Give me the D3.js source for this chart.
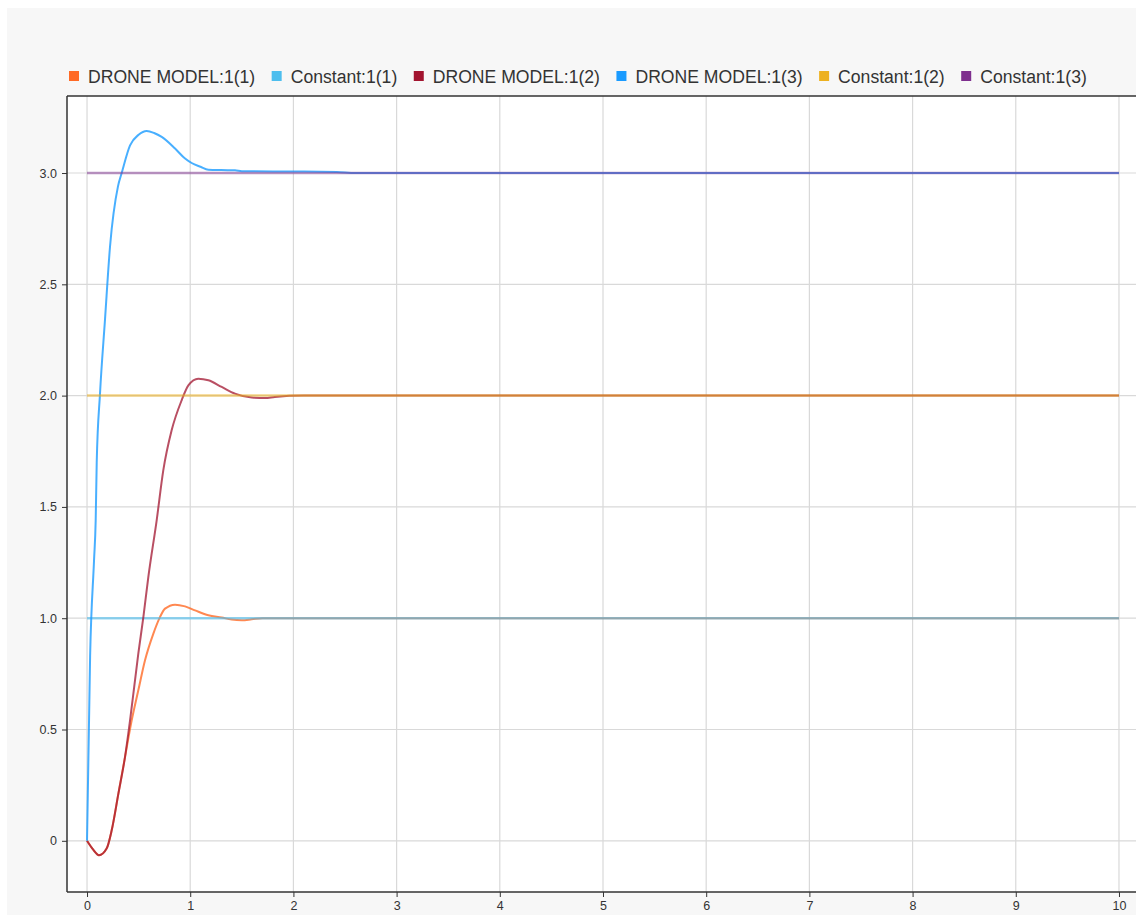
<!DOCTYPE html>
<html>
<head>
<meta charset="utf-8">
<script src="https://cdn.jsdelivr.net/npm/d3@7"></script>
<style>
  html, body { margin: 0; padding: 0; background: #ffffff; }
  svg { display: block; font-family: "Liberation Sans", Arial, sans-serif; }
</style>
</head>
<body>
<svg id="chart" width="1136" height="916"></svg>
<script>
// Drone position response (three axes) against constant setpoints
const seriesNames = ["DRONE MODEL:1(1)", "Constant:1(1)", "DRONE MODEL:1(2)", "DRONE MODEL:1(3)", "Constant:1(2)", "Constant:1(3)"];
const seriesColors = ["#ff6a26", "#4dbeee", "#a2142f", "#1a9bff", "#edb120", "#7e2f8e"];

const xTicks = [0, 1, 2, 3, 4, 5, 6, 7, 8, 9, 10];
const yTicks = [0, 0.5, 1.0, 1.5, 2.0, 2.5, 3.0];
const yTickLabels = ["0", "0.5", "1.0", "1.5", "2.0", "2.5", "3.0"];

// DRONE MODEL:1(1)
const drone1Time  = [0, 0.06, 0.116, 0.19, 0.239, 0.304, 0.368, 0.433, 0.497, 0.562, 0.643, 0.707, 0.756, 0.853, 0.95, 1.047, 1.176, 1.305, 1.402, 1.5, 1.596, 1.7, 2.0, 10];
const drone1Value = [0, -0.04, -0.065, -0.035, 0.047, 0.212, 0.376, 0.541, 0.676, 0.811, 0.931, 1.005, 1.043, 1.061, 1.053, 1.035, 1.013, 1.003, 0.994, 0.991, 0.995, 1.0, 1.0, 1.0];

// DRONE MODEL:1(2)
const drone2Time  = [0, 0.06, 0.116, 0.19, 0.239, 0.304, 0.368, 0.417, 0.497, 0.546, 0.594, 0.675, 0.739, 0.82, 0.917, 0.982, 1.078, 1.176, 1.305, 1.434, 1.596, 1.725, 1.82, 2.1, 10];
const drone2Value = [0, -0.04, -0.065, -0.035, 0.047, 0.212, 0.376, 0.541, 0.841, 1.005, 1.185, 1.44, 1.664, 1.844, 1.979, 2.046, 2.076, 2.069, 2.039, 2.009, 1.991, 1.989, 1.994, 2.0, 2.0];

// DRONE MODEL:1(3)
const drone3Time  = [0, 0.03, 0.068, 0.084, 0.094, 0.126, 0.174, 0.223, 0.30, 0.336, 0.417, 0.5, 0.578, 0.65, 0.724, 0.853, 0.95, 1.014, 1.1, 1.176, 1.3, 1.434, 1.5, 1.8, 2.1, 2.42, 2.6, 10];
const drone3Value = [0, 0.83, 1.26, 1.44, 1.70, 2.01, 2.34, 2.67, 2.94, 3.0, 3.124, 3.172, 3.189, 3.18, 3.162, 3.110, 3.065, 3.045, 3.028, 3.015, 3.013, 3.012, 3.008, 3.007, 3.007, 3.005, 3.0, 3.0];

// Constant setpoints
const constTime = [0, 10];
const const1Value = [1, 1];
const const2Value = [2, 2];
const const3Value = [3, 3];

const zip = (ts, vs) => ts.map((t, i) => ({ t, v: vs[i] }));
// drawing order follows the legend order
const series = [
  { name: seriesNames[0], color: seriesColors[0], data: zip(drone1Time, drone1Value), w: 2, op: 0.8 },
  { name: seriesNames[1], color: seriesColors[1], data: zip(constTime, const1Value), w: 2.5, op: 0.6 },
  { name: seriesNames[2], color: seriesColors[2], data: zip(drone2Time, drone2Value), w: 2, op: 0.75 },
  { name: seriesNames[3], color: seriesColors[3], data: zip(drone3Time, drone3Value), w: 2, op: 0.8 },
  { name: seriesNames[4], color: seriesColors[4], data: zip(constTime, const2Value), w: 2.5, op: 0.55 },
  { name: seriesNames[5], color: seriesColors[5], data: zip(constTime, const3Value), w: 2.5, op: 0.5 }
];

const svg = d3.select("#chart");
const W = 1136, H = 916;

// panel background
svg.append("rect").attr("x", 0).attr("y", 0).attr("width", W).attr("height", H).attr("fill", "#ffffff");
svg.append("rect").attr("x", 7).attr("y", 8).attr("width", W - 7).attr("height", 907).attr("fill", "#f7f7f7");

const plot = { left: 67, top: 96, right: 1136, bottom: 892 };

svg.append("rect")
  .attr("x", plot.left).attr("y", plot.top)
  .attr("width", plot.right - plot.left).attr("height", plot.bottom - plot.top)
  .attr("fill", "#ffffff");

const x = d3.scaleLinear().domain([-0.194, 10.165]).range([plot.left, plot.right]);
const y = d3.scaleLinear().domain([-0.23, 3.346]).range([plot.bottom, plot.top]);

// grid
const grid = svg.append("g");
grid.selectAll("line.vx").data(xTicks).join("line")
  .attr("x1", d => x(d)).attr("x2", d => x(d))
  .attr("y1", plot.top).attr("y2", plot.bottom)
  .attr("stroke", "#d9d9d9").attr("stroke-width", 1.2);
grid.selectAll("line.hy").data(yTicks).join("line")
  .attr("x1", plot.left).attr("x2", plot.right)
  .attr("y1", d => y(d)).attr("y2", d => y(d))
  .attr("stroke", "#d9d9d9").attr("stroke-width", 1.2);

// series lines
const line = d3.line().x(d => x(d.t)).y(d => y(d.v)).curve(d3.curveMonotoneX);
const lines = svg.append("g");
series.forEach(s => {
  lines.append("path")
    .datum(s.data)
    .attr("d", line)
    .attr("fill", "none")
    .attr("stroke", s.color)
    .attr("stroke-width", s.w)
    .attr("stroke-opacity", s.op)
    .attr("stroke-linejoin", "round");
});

// axes
const xAxis = d3.axisBottom(x).tickValues(xTicks).tickFormat(d3.format("d")).tickSize(5).tickPadding(4);
const yAxis = d3.axisLeft(y).tickValues(yTicks).tickFormat((d, i) => yTickLabels[i]).tickSize(5).tickPadding(5);

const gx = svg.append("g").attr("transform", `translate(0,${plot.bottom})`).call(xAxis);
const gy = svg.append("g").attr("transform", `translate(${plot.left},0)`).call(yAxis);
[gx, gy].forEach(g => {
  g.select(".domain").remove();
  g.selectAll(".tick line").attr("stroke", "#333");
  g.selectAll(".tick text").attr("fill", "#333").style("font-size", "12.5px")
    .style("font-family", "'Liberation Sans', Arial, sans-serif");
});

// frame: left, top, bottom
svg.append("line").attr("x1", plot.left).attr("x2", plot.left).attr("y1", plot.top).attr("y2", plot.bottom)
  .attr("stroke", "#333").attr("stroke-width", 1.5);
svg.append("line").attr("x1", plot.left).attr("x2", plot.right).attr("y1", plot.top).attr("y2", plot.top)
  .attr("stroke", "#333").attr("stroke-width", 1.5);
svg.append("line").attr("x1", plot.left).attr("x2", plot.right).attr("y1", plot.bottom).attr("y2", plot.bottom)
  .attr("stroke", "#333").attr("stroke-width", 1.5);

// legend
const legend = svg.append("g");
let cx = 69;
series.forEach(s => {
  legend.append("rect").attr("x", cx).attr("y", 71).attr("width", 10).attr("height", 10).attr("fill", s.color);
  const txt = legend.append("text")
    .attr("x", cx + 19).attr("y", 82.5)
    .attr("fill", "#333")
    .style("font-size", "17.6px")
    .text(s.name);
  cx += 19 + txt.node().getComputedTextLength() + 16.5;
});
</script>
</body>
</html>
